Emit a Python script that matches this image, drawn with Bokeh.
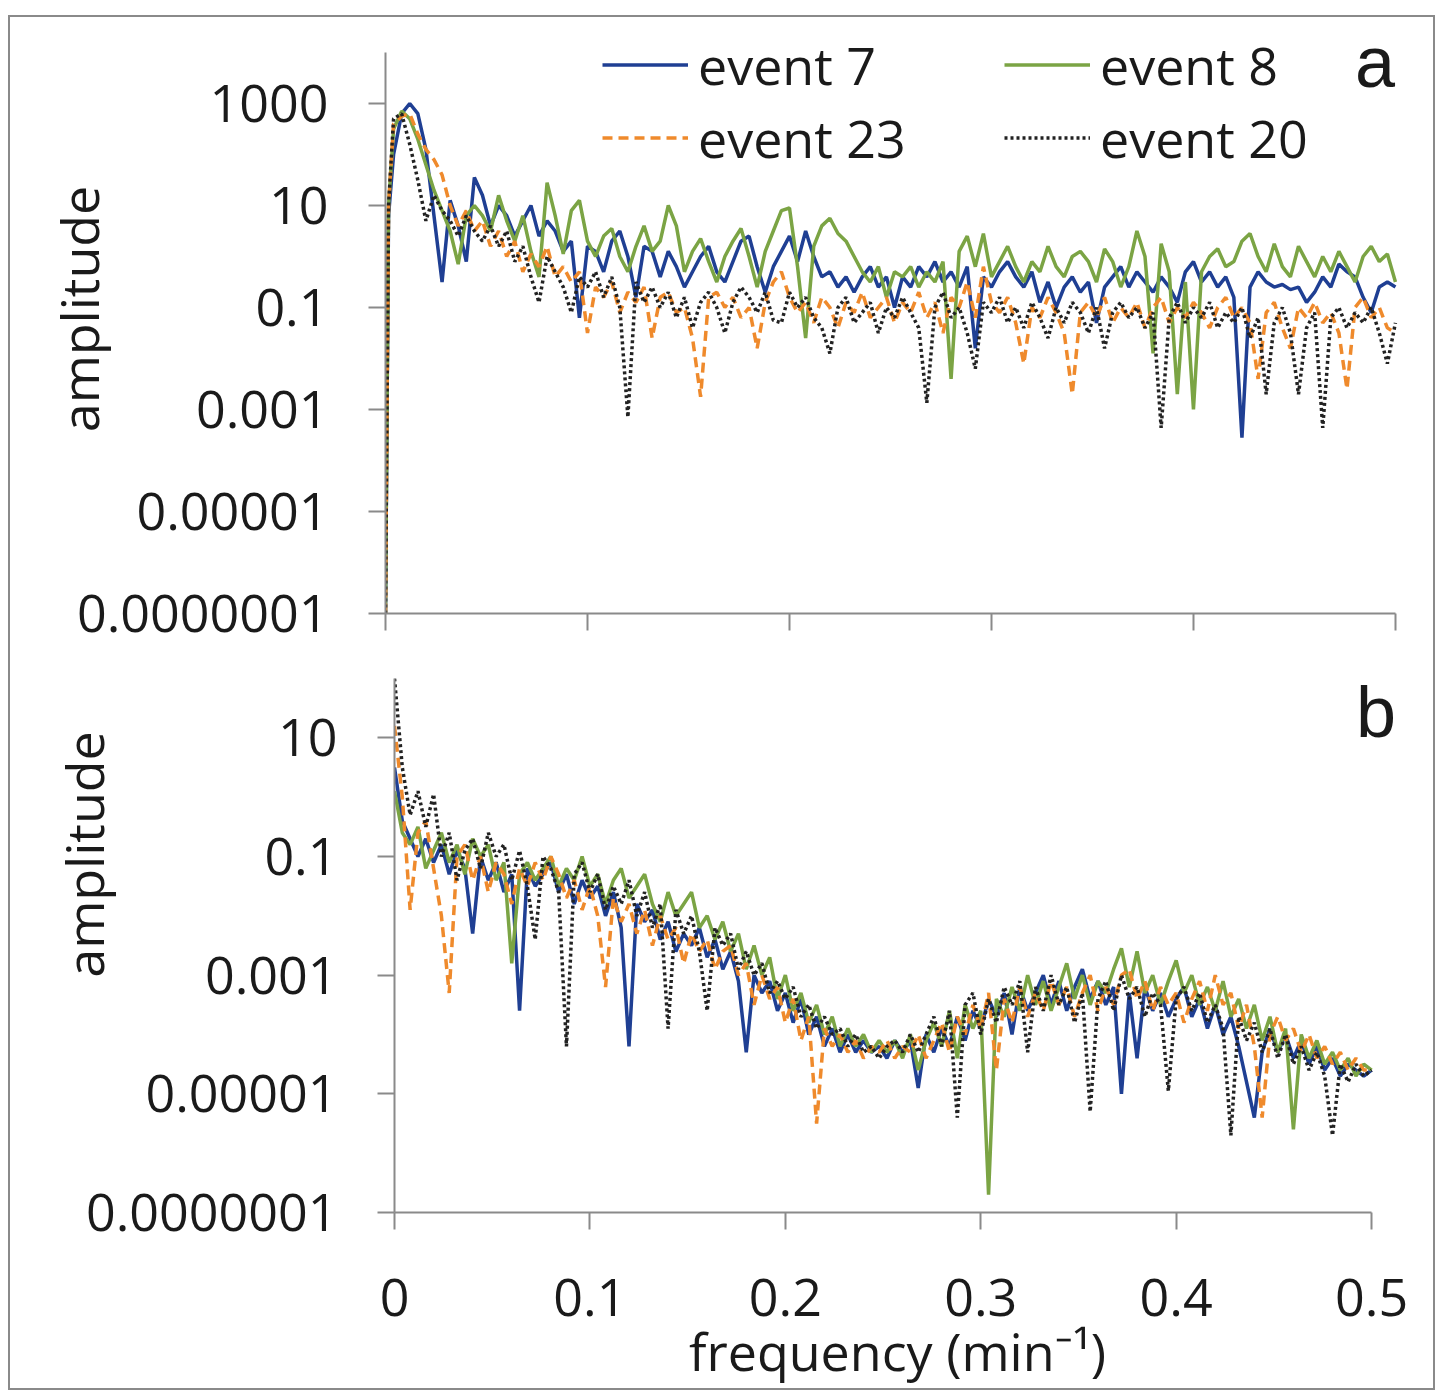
import math
from bokeh.plotting import figure
from bokeh.models import (Range1d, FixedTicker, CustomJSTickFormatter, NumeralTickFormatter,
                          Legend, LegendItem, Label)
from bokeh.layouts import column, row
from bokeh.embed import file_html
from bokeh.resources import INLINE

# ---------------- data (log10 of amplitude) ----------------
series_names = ["event 7", "event 8", "event 23", "event 20"]

freq_top = [0.000, 0.0015, 0.004, 0.008, 0.012, 0.016, 0.020, 0.024, 0.028, 0.032, 0.036,
            0.040, 0.044, 0.048, 0.052, 0.056, 0.060, 0.064, 0.068, 0.072, 0.076,
            0.080, 0.084, 0.088, 0.092, 0.096, 0.100, 0.104, 0.108, 0.112, 0.116,
            0.120, 0.124, 0.128, 0.132, 0.136, 0.140, 0.144, 0.148, 0.152, 0.156,
            0.160, 0.164, 0.168, 0.172, 0.176, 0.180, 0.184, 0.188, 0.192, 0.196,
            0.200, 0.204, 0.208, 0.212, 0.216, 0.220, 0.224, 0.228, 0.232, 0.236,
            0.240, 0.244, 0.248, 0.252, 0.256, 0.260, 0.264, 0.268, 0.272, 0.276,
            0.280, 0.284, 0.288, 0.292, 0.296, 0.300, 0.304, 0.308, 0.312, 0.316,
            0.320, 0.324, 0.328, 0.332, 0.336, 0.340, 0.344, 0.348, 0.352, 0.356,
            0.360, 0.364, 0.368, 0.372, 0.376, 0.380, 0.384, 0.388, 0.392, 0.396,
            0.400, 0.404, 0.408, 0.412, 0.416, 0.420, 0.424, 0.428, 0.432, 0.436,
            0.440, 0.444, 0.448, 0.452, 0.456, 0.460, 0.464, 0.468, 0.472, 0.476,
            0.480, 0.484, 0.488, 0.492, 0.496, 0.500]

freq_bottom = [0.000, 0.004, 0.008, 0.012, 0.016, 0.020, 0.024, 0.028, 0.032, 0.036,
               0.040, 0.044, 0.048, 0.052, 0.056, 0.060, 0.064, 0.068, 0.072, 0.076,
               0.080, 0.084, 0.088, 0.092, 0.096, 0.100, 0.104, 0.108, 0.112, 0.116,
               0.120, 0.124, 0.128, 0.132, 0.136, 0.140, 0.144, 0.148, 0.152, 0.156,
               0.160, 0.164, 0.168, 0.172, 0.176, 0.180, 0.184, 0.188, 0.192, 0.196,
               0.200, 0.204, 0.208, 0.212, 0.216, 0.220, 0.224, 0.228, 0.232, 0.236,
               0.240, 0.244, 0.248, 0.252, 0.256, 0.260, 0.264, 0.268, 0.272, 0.276,
               0.280, 0.284, 0.288, 0.292, 0.296, 0.300, 0.304, 0.308, 0.312, 0.316,
               0.320, 0.324, 0.328, 0.332, 0.336, 0.340, 0.344, 0.348, 0.352, 0.356,
               0.360, 0.364, 0.368, 0.372, 0.376, 0.380, 0.384, 0.388, 0.392, 0.396,
               0.400, 0.404, 0.408, 0.412, 0.416, 0.420, 0.424, 0.428, 0.432, 0.436,
               0.440, 0.444, 0.448, 0.452, 0.456, 0.460, 0.464, 0.468, 0.472, 0.476,
               0.480, 0.484, 0.488, 0.492, 0.496, 0.500]

# panel a
top_event7_log = [-7, 0.8, 2.0, 2.8, 3.0, 2.8, 2.1, 0.8, -0.5, 1.1, 0.6,
                  -0.1, 1.55, 1.2, 0.6, 1.0, 0.8, 0.4, 0.7, 1.0, 0.4,
                  0.7, 0.5, 0.1, 0.3, -1.2, 0.2, 0.1, -0.3, 0.3, 0.5,
                  0.0, -0.8, 0.2, 0.1, -0.4, 0.1, -0.2, -0.6, -0.3, 0.0,
                  0.2, -0.3, -0.5, -0.1, 0.3, 0.4, -0.2, -0.7, -0.2, 0.1,
                  0.4, -0.1, 0.5, 0.0, -0.4, -0.3, -0.6, -0.4, -0.7, -0.4,
                  -0.2, -0.6, -0.4, -1.0, -0.4, -0.6, -0.2, -0.4, -0.1, -0.5,
                  -0.3, -0.6, -0.2, -1.8, -0.4, -0.6, -0.3, -0.1, -0.4, -0.6,
                  -0.3, -0.9, -0.5, -1.0, -0.6, -0.4, -0.7, -0.5, -1.3, -0.6,
                  -0.4, -0.2, -0.6, -0.3, -0.5, -0.7, -0.4, -0.6, -0.9, -0.3,
                  -0.1, -0.5, -0.3, -0.6, -0.4, -0.8, -3.55, -0.6, -0.3, -0.5,
                  -0.6, -0.55, -0.65, -0.6, -0.9, -0.7, -0.4, -0.6, -0.15, -0.3,
                  -0.4, -0.8, -1.1, -0.6, -0.5, -0.6]
top_event8_log = [-7, 1.0, 2.5, 2.85, 2.7, 2.3, 1.8, 1.3, 0.9, 0.5, -0.15,
                  0.8, 1.0, 0.8, 0.5, 1.2, 0.7, 0.3, 0.8, 0.1, -0.4,
                  1.45, 0.8, 0.05, 0.9, 1.1, 0.3, 0.0, 0.4, 0.55, 0.0,
                  -0.3, 0.2, 0.6, 0.1, 0.3, 1.0, 0.6, -0.3, 0.1, 0.35,
                  -0.1, -0.5, 0.0, 0.3, 0.55, 0.0, -0.6, 0.1, 0.5, 0.9,
                  0.95, -0.2, -1.6, 0.2, 0.6, 0.75, 0.45, 0.3, 0.0, -0.3,
                  -0.5, -0.2, -0.8, -0.3, -0.4, -0.2, -0.6, -0.3, -0.5, -0.1,
                  -2.4, 0.1, 0.4, -0.2, 0.45, -0.4, -0.1, 0.2, -0.2, -0.5,
                  -0.1, -0.3, 0.2, -0.2, -0.4, 0.0, 0.1, -0.1, -0.5, 0.15,
                  -0.1, -0.6, -0.2, 0.5, 0.0, -1.9, 0.25, -0.3, -2.7, -0.5,
                  -3.0, -0.3, 0.0, 0.15, -0.2, -0.1, 0.3, 0.45, 0.0, -0.3,
                  0.25, -0.2, -0.4, 0.2, -0.1, -0.4, 0.0, -0.3, 0.1, -0.2,
                  -0.5, 0.0, 0.2, -0.1, 0.05, -0.5]
top_event23_log = [-7, 1.0, 2.6, 2.75, 2.8, 2.4, 2.1, 1.9, 1.6, 1.0, 0.6,
                   0.9, 0.5, 0.7, 0.2, 0.5, 0.0, 0.3, -0.3, 0.05, -0.2,
                   0.2, -0.4, -0.2, -0.5, -0.3, -1.5, -0.6, -0.8, -0.5, -1.1,
                   -0.7, -0.9, -0.6, -1.6, -0.8, -0.7, -1.1, -1.0, -1.6, -2.75,
                   -0.8, -0.7, -1.0, -0.8, -1.2, -1.0, -1.8, -0.9, -0.5, -0.3,
                   -0.8, -1.1, -0.9, -1.3, -0.8, -1.0, -1.4, -0.9, -1.1, -0.7,
                   -1.2, -1.0, -0.8, -1.3, -0.9, -1.1, -0.7, -1.2, -0.9, -1.5,
                   -0.8, -1.0, -0.5, -1.2, -0.2, -0.9, -1.1, -0.8, -1.3, -2.1,
                   -1.0, -1.2, -0.8, -1.1, -1.5, -2.7, -1.1, -0.9, -1.2, -0.8,
                   -1.3, -1.0, -1.2, -0.9, -1.4, -1.0, -0.8, -1.3, -1.0, -1.2,
                   -0.9, -1.1, -1.4, -1.0, -0.8, -1.2, -1.0, -1.3, -2.4, -1.1,
                   -0.9, -1.4, -1.8, -1.0, -1.2, -0.9, -1.3, -1.1, -1.5, -2.6,
                   -1.0, -0.8, -1.2, -1.0, -1.4, -1.5]
top_event20_log = [-7, 1.0, 2.7, 2.8, 2.2, 1.5, 0.7, 1.2, 0.9, 0.7, 0.4,
                   0.8, 0.5, 0.3, 0.6, 0.2, 0.5, -0.1, 0.2, -0.4, -0.9,
                   0.0, -0.3, -0.6, -1.1, -0.4, -0.6, -0.3, -0.8, -0.4, -1.0,
                   -3.15, -0.5, -0.9, -0.6, -1.0, -0.7, -1.2, -0.8, -1.4, -0.9,
                   -0.7, -1.0, -1.5, -0.9, -0.6, -0.8, -1.1, -0.7, -1.25, -1.3,
                   -0.7, -1.0, -0.8, -1.2, -1.4, -1.9, -1.0, -0.8, -1.3, -1.1,
                   -0.9, -1.5, -1.0, -1.2, -0.8, -1.1, -1.4, -2.87, -1.0, -0.7,
                   -1.2, -1.0, -1.5, -2.2, -0.9, -1.1, -0.8, -1.3, -1.0, -1.4,
                   -0.9, -1.2, -1.6, -1.0, -1.3, -0.9, -1.1, -1.5, -1.0, -1.8,
                   -1.1, -0.9, -1.2, -1.0, -1.4, -1.1, -3.36, -1.2, -0.9, -1.3,
                   -1.0, -1.2, -0.9, -1.4, -1.1, -1.3, -1.0, -1.6, -1.2, -2.7,
                   -1.3, -1.0, -1.5, -2.7, -1.4, -1.1, -3.36, -1.2, -1.0, -1.4,
                   -1.1, -1.3, -1.0, -1.5, -2.1, -1.3]

# panel b
bot_event7_log = [0.5, -0.4, -0.7, -1.0, -0.7, -1.1, -0.8, -1.3, -0.9, -1.2,
                  -2.3, -1.0, -1.4, -1.1, -1.6, -1.3, -3.6, -1.2, -1.5, -1.3,
                  -1.1, -1.6, -1.3, -1.8, -1.4, -1.7, -1.5, -2.0, -1.6, -2.2,
                  -4.2, -1.8, -2.1, -1.9, -2.4, -2.1, -2.6, -2.3, -2.5, -2.2,
                  -2.7, -2.4, -2.9, -2.6, -3.1, -4.3, -3.0, -3.3, -3.1, -3.6,
                  -3.3, -3.8, -3.4, -4.0, -3.7, -4.2, -3.9, -4.3, -4.0, -4.3,
                  -4.1, -4.3, -4.2, -4.4, -4.1, -4.3, -4.1, -4.9, -4.0, -4.3,
                  -3.9, -4.2, -3.7, -4.1, -3.6, -3.9, -3.4, -3.7, -3.3, -4.0,
                  -3.2, -3.6, -3.3, -3.0, -3.5, -3.1, -3.6, -3.2, -2.9, -3.4,
                  -3.1, -3.5, -3.2, -5.0, -3.3, -4.4, -3.2, -3.6, -3.3, -3.7,
                  -3.4, -3.2, -3.7, -3.4, -3.9, -3.5, -4.0, -3.7, -4.2, -4.8,
                  -5.4, -4.3, -3.9, -4.3, -4.0, -4.4, -4.1, -4.5, -4.2, -4.6,
                  -4.4, -4.7, -4.5, -4.6, -4.7, -4.6]
bot_event8_log = [0.1, -0.6, -0.8, -0.5, -1.2, -0.9, -0.6, -1.1, -0.8, -1.3,
                  -0.7, -1.0, -0.8, -1.4, -1.1, -2.8, -1.3, -1.1, -1.4, -1.2,
                  -1.0, -1.5, -1.2, -1.4, -1.0, -1.5, -1.3, -1.8, -1.4, -1.2,
                  -1.7, -1.5, -1.3, -1.8, -2.1, -1.6, -2.0, -1.8, -1.6, -2.2,
                  -2.0, -2.4, -2.1, -2.6, -2.3, -2.9, -2.5, -3.0, -2.7, -3.4,
                  -3.0, -3.6, -3.3, -3.8, -3.5, -4.0, -3.7, -4.2, -3.9, -4.2,
                  -4.0, -4.3, -4.1, -4.3, -4.1, -4.4, -4.0, -4.6, -4.1, -3.8,
                  -4.2, -3.6, -4.4, -3.5, -3.9, -3.6, -6.7, -3.4, -3.7, -3.2,
                  -3.6, -3.0, -3.5, -3.1, -3.6, -3.2, -2.8, -3.4, -3.0, -3.5,
                  -3.1, -3.3, -2.9, -2.55, -3.2, -2.6, -3.3, -3.0, -3.5, -3.1,
                  -2.75, -3.3, -3.0, -3.5, -3.2, -3.6, -3.1, -3.7, -3.4, -3.9,
                  -3.5, -4.1, -3.7, -4.3, -3.9, -5.6, -4.0, -4.4, -4.1, -4.5,
                  -4.3, -4.6, -4.4, -4.7, -4.5, -4.6]
bot_event23_log = [1.2, 0.0, -1.9, -0.6, -0.4, -1.2, -2.0, -3.3, -1.0, -0.8,
                   -1.4, -1.0, -1.6, -1.1, -1.3, -1.8, -1.2, -1.5, -1.1, -1.4,
                   -1.0, -1.3, -1.7, -1.4, -1.9, -1.5, -2.0, -3.2, -1.7, -2.1,
                   -1.8, -2.3, -1.9, -2.5, -2.0, -2.4, -2.2, -2.8, -2.3, -2.6,
                   -2.4, -2.9, -2.6, -2.5, -3.0, -2.8, -3.5, -3.0, -3.4, -3.2,
                   -3.8, -3.4, -4.1, -3.7, -5.5, -3.9, -4.2, -4.0, -4.3, -4.1,
                   -4.4, -4.2, -4.3, -4.1, -4.4, -4.2, -4.3, -4.0, -4.4, -4.1,
                   -3.8, -4.3, -3.7, -4.0, -3.5, -3.9, -3.3, -4.6, -3.4, -3.8,
                   -3.2, -3.7, -3.3, -3.6, -3.1, -3.5, -3.2, -3.7, -3.3, -3.0,
                   -3.6, -3.2, -3.5, -3.0, -2.9, -3.4, -3.1, -3.6, -3.2, -3.5,
                   -3.3, -3.8, -3.4, -3.1, -3.6, -3.0, -3.5, -3.3, -3.9, -3.5,
                   -4.2, -5.4, -4.0, -3.7, -4.1, -3.9, -4.3, -4.0, -4.4, -4.2,
                   -4.5, -4.3, -4.6, -4.4, -4.6, -4.6]
bot_event20_log = [2.0, 0.5, -0.3, 0.1, -0.5, 0.05, -1.0, -0.6, -1.4, -0.9,
                   -0.7, -1.2, -0.6, -1.0, -0.8, -1.4, -0.9, -1.5, -2.4, -1.0,
                   -1.2, -1.6, -4.2, -1.3, -1.1, -1.6, -1.3, -1.9, -1.5, -1.8,
                   -1.4, -2.0, -1.6, -2.2, -1.8, -3.9, -1.9, -2.3, -2.0, -2.6,
                   -3.6, -2.2, -2.5, -2.3, -2.9, -2.6, -3.0, -2.8, -3.3, -3.1,
                   -3.4, -3.2, -3.7, -3.5, -3.9, -3.7, -4.0, -3.9, -4.2, -4.0,
                   -4.3, -4.2, -4.4, -4.2, -4.1, -4.3, -4.0, -4.3, -4.0, -3.7,
                   -4.2, -3.6, -5.4, -3.5, -3.3, -4.0, -3.4, -3.8, -3.2, -3.5,
                   -3.1, -4.3, -3.2, -3.6, -3.0, -3.5, -3.2, -3.8, -3.3, -5.3,
                   -3.4, -3.1, -3.6, -3.0, -3.4, -3.2, -3.7, -3.3, -3.5, -4.95,
                   -3.4, -3.2, -3.6, -3.3, -3.8, -3.5, -3.9, -5.7, -3.7, -4.1,
                   -3.8, -4.3, -3.9, -4.4, -4.0, -4.5, -4.2, -4.6, -4.3, -4.7,
                   -5.7, -4.5, -4.8, -4.5, -4.7, -4.6]

y_ticks_top = [1e-7, 1e-5, 1e-3, 0.1, 10, 1000]
y_ticks_bottom = [1e-7, 1e-5, 1e-3, 0.1, 10]
x_ticks = [0, 0.1, 0.2, 0.3, 0.4, 0.5]

# ---------------- styling ----------------
FONT = "Open Sans"
TICK_FONT_SIZE = "52px"
TEXT_COLOR = "#1a1a1a"
AXIS_COLOR = "#8a8a8a"
styles = [
    dict(line_color="#1f3f93", line_width=3.5, line_dash="solid"),
    dict(line_color="#7ba444", line_width=3.5, line_dash="solid"),
    dict(line_color="#ef8a2c", line_width=3.5, line_dash="10 6"),
    dict(line_color="#222222", line_width=3.5, line_dash="3 3"),
]

y_formatter = CustomJSTickFormatter(code="""
    const e = Math.round(Math.log10(tick));
    return e >= 0 ? tick.toFixed(0) : tick.toFixed(-e);
""")


def make_fig(width, height, border, x_end, y_top, y_ticks, y_axis_top):
    p = figure(width=width, height=height, y_axis_type="log",
               x_range=Range1d(0, x_end), y_range=Range1d(1e-7, y_top),
               output_backend="svg", toolbar_location=None)
    p.min_border_left, p.min_border_right, p.min_border_top, p.min_border_bottom = border
    p.xgrid.visible = False
    p.ygrid.visible = False
    p.outline_line_color = None
    p.background_fill_color = "white"
    p.border_fill_color = "white"
    for ax in (p.xaxis[0], p.yaxis[0]):
        ax.axis_line_color = AXIS_COLOR
        ax.axis_line_width = 2
        ax.major_tick_line_color = AXIS_COLOR
        ax.major_tick_line_width = 2
        ax.major_tick_in = 0
        ax.major_tick_out = 17
        ax.minor_tick_line_color = None
        ax.major_label_text_font = FONT
        ax.major_label_text_font_size = TICK_FONT_SIZE
        ax.major_label_text_color = TEXT_COLOR
    p.yaxis.ticker = FixedTicker(ticks=y_ticks)
    p.yaxis.formatter = y_formatter
    p.yaxis.major_label_standoff = 40
    p.yaxis.bounds = (1e-7, y_axis_top)
    p.xaxis.ticker = FixedTicker(ticks=x_ticks)
    p.xaxis.formatter = NumeralTickFormatter(format="0.[0]")
    p.xaxis.bounds = (0, 0.5)
    p.yaxis.axis_label_text_font = FONT
    p.yaxis.axis_label_text_font_size = "52px"
    p.yaxis.axis_label_text_font_style = "normal"
    p.yaxis.axis_label_text_color = TEXT_COLOR
    return p


def draw(p, freq, logs_list):
    rs = []
    for logs, st in zip(logs_list, styles):
        amp = [10 ** v for v in logs]
        rs.append(p.line(freq, amp, **st))
    return rs


# ---- panel a ----
p_top = make_fig(1423, 635, (375, 13, 0, 39), 0.5124, 10 ** 4.686, y_ticks_top, 1e4)
p_top.xaxis.major_label_text_font_size = "0px"
p_top.xaxis.major_label_text_color = None
p_top.xaxis.major_label_standoff = 0
p_top.yaxis.axis_label = "\u2005amplitude"
p_top.yaxis.axis_label_standoff = -40
r_top = draw(p_top, freq_top, [top_event7_log, top_event8_log, top_event23_log, top_event20_log])

legend = Legend(
    items=[LegendItem(label=series_names[0], renderers=[r_top[0]]),
           LegendItem(label=series_names[1], renderers=[r_top[1]]),
           LegendItem(label=series_names[2], renderers=[r_top[2]]),
           LegendItem(label=series_names[3], renderers=[r_top[3]])],
    location=(217, 440), orientation="horizontal", ncols=2,
    label_text_font=FONT, label_text_font_size="52px", label_text_color=TEXT_COLOR,
    glyph_width=86, glyph_height=63, label_height=63, label_width=304,
    label_standoff=10, spacing=2, padding=0, margin=0,
    border_line_color=None, background_fill_alpha=0)
p_top.add_layout(legend)

p_top.add_layout(Label(x=0.480, y=6600, text="a", text_align="left",
                       text_baseline="alphabetic", text_font="Liberation Sans",
                       text_font_size="72px", text_color=TEXT_COLOR))

# ---- panel b ----
p_bot = make_fig(1423, 736, (384, 33, 26, 175), 0.5148, 100, y_ticks_bottom, 100)
p_bot.xaxis.major_label_standoff = 49
p_bot.xaxis.axis_label = "frequency (min\u207b\u00b9)"
p_bot.xaxis.axis_label_text_font = FONT
p_bot.xaxis.axis_label_text_font_size = "52px"
p_bot.xaxis.axis_label_text_font_style = "normal"
p_bot.xaxis.axis_label_text_color = TEXT_COLOR
p_bot.xaxis.axis_label_standoff = -4
p_bot.yaxis.axis_label = "\u2003\u2003\u2003\u2002amplitude"
p_bot.yaxis.axis_label_standoff = -36
draw(p_bot, freq_bottom, [bot_event7_log, bot_event8_log, bot_event23_log, bot_event20_log])

p_bot.add_layout(Label(x=0.492, y=27, text="b", text_align="left",
                       text_baseline="alphabetic", text_font="Liberation Sans",
                       text_font_size="72px", text_color=TEXT_COLOR))

layout = column(row(p_top), row(p_bot), spacing=0, margin=(15, 0, 0, 8),
                styles={"border": "2px solid #8a8a8a"})

open("out.html", "w").write(file_html(layout, INLINE))
